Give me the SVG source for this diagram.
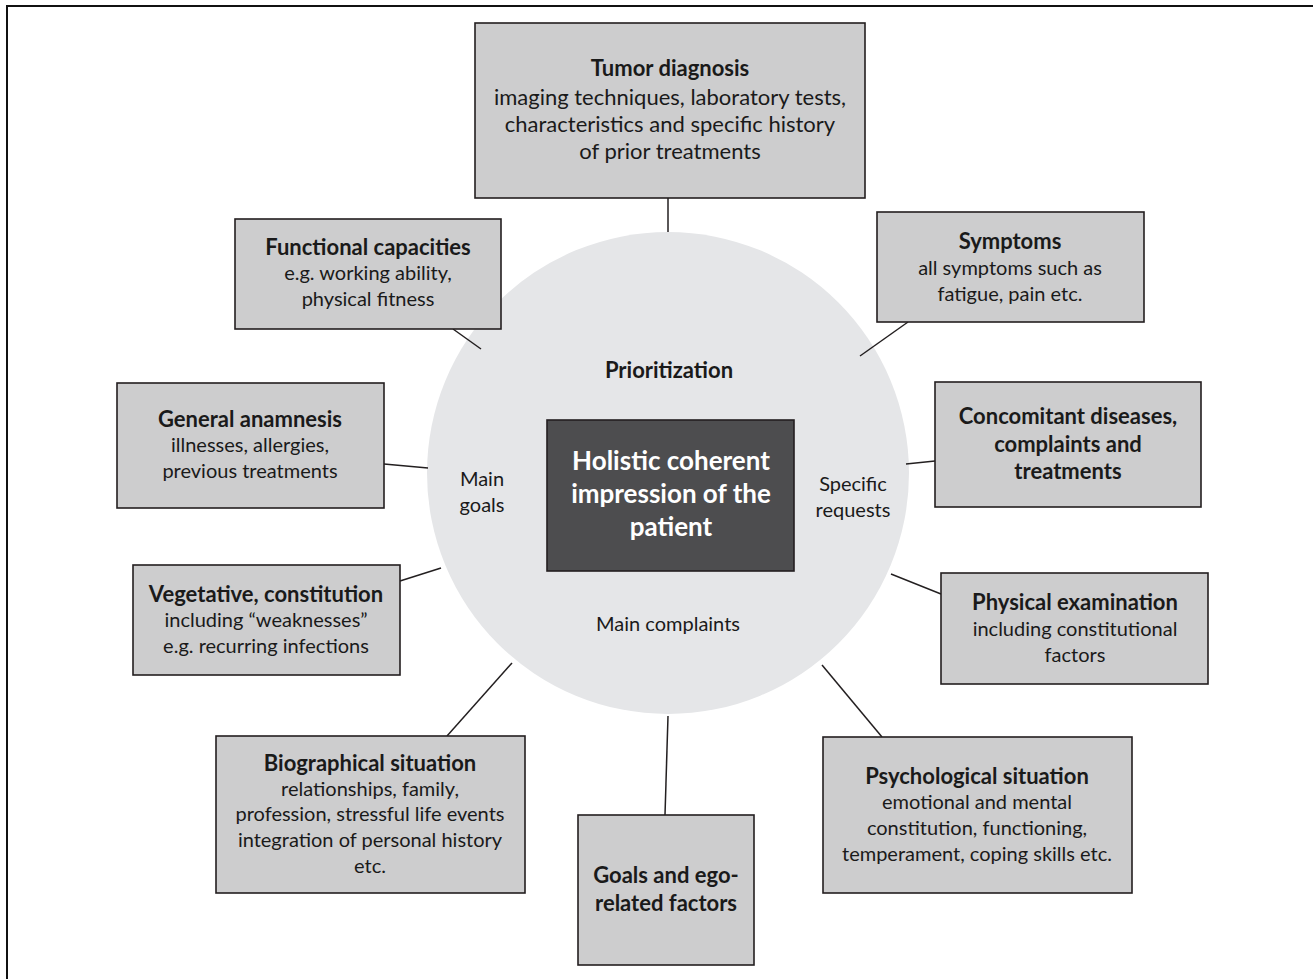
<svg xmlns="http://www.w3.org/2000/svg" width="1313" height="979" viewBox="0 0 1313 979">
<style>
.bx{fill:#cdcdce;stroke:#231f20;stroke-width:1.6}
.t{font-family:Lato,"Open Sans",sans-serif;font-size:20px;fill:#1a1a1a;text-anchor:middle}
.b{font-weight:bold;font-size:22px}
.L{font-size:22px}
.w{fill:#ffffff;font-size:26px;font-weight:bold}
.c{stroke:#231f20;stroke-width:1.5;fill:none}
</style>
<rect x="7" y="6" width="1330" height="1000" fill="#ffffff" stroke="#111" stroke-width="2"/>
<g id="hub">
<circle cx="668" cy="473" r="241" fill="#e5e6e8"/>
<text class="t b" x="669" y="378">Prioritization</text>
<text class="t" x="482" y="486">Main</text>
<text class="t" x="482" y="512">goals</text>
<text class="t" x="853" y="491">Specific</text>
<text class="t" x="853" y="517">requests</text>
<text class="t" x="668" y="631">Main complaints</text>
</g>
<g id="connectors">
<line class="c" x1="668" y1="198" x2="668" y2="232"/>
<line class="c" x1="453" y1="329" x2="481" y2="349"/>
<line class="c" x1="908" y1="322" x2="860" y2="356"/>
<line class="c" x1="384" y1="464" x2="428" y2="468"/>
<line class="c" x1="935" y1="461" x2="906" y2="464"/>
<line class="c" x1="400" y1="581" x2="441" y2="568"/>
<line class="c" x1="941" y1="594" x2="891" y2="574"/>
<line class="c" x1="447" y1="736" x2="512" y2="663"/>
<line class="c" x1="882" y1="737" x2="822" y2="665"/>
<line class="c" x1="665" y1="815" x2="668" y2="716"/>
</g>
<g id="center">
<rect x="547" y="420" width="247" height="151" fill="#4d4d4f" stroke="#231f20" stroke-width="1.6"/>
<text class="t w" x="671" y="470">Holistic coherent</text>
<text class="t w" x="671" y="503">impression of the</text>
<text class="t w" x="671" y="536">patient</text>
</g>
<g id="tumor">
<rect class="bx" x="475" y="23" width="390" height="175"/>
<text class="t b" x="670" y="76">Tumor diagnosis</text>
<text class="t L" x="670" y="105">imaging techniques, laboratory tests,</text>
<text class="t L" x="670" y="132">characteristics and specific history</text>
<text class="t L" x="670" y="159">of prior treatments</text>
</g>
<g id="functional">
<rect class="bx" x="235" y="219" width="266" height="110"/>
<text class="t b" x="368" y="255">Functional capacities</text>
<text class="t" x="368" y="280">e.g. working ability,</text>
<text class="t" x="368" y="306">physical fitness</text>
</g>
<g id="symptoms">
<rect class="bx" x="877" y="212" width="267" height="110"/>
<text class="t b" x="1010" y="249">Symptoms</text>
<text class="t" x="1010" y="275">all symptoms such as</text>
<text class="t" x="1010" y="301">fatigue, pain etc.</text>
</g>
<g id="general">
<rect class="bx" x="117" y="383" width="267" height="125"/>
<text class="t b" x="250" y="427">General anamnesis</text>
<text class="t" x="250" y="452">illnesses, allergies,</text>
<text class="t" x="250" y="478">previous treatments</text>
</g>
<g id="concomitant">
<rect class="bx" x="935" y="382" width="266" height="125"/>
<text class="t b" x="1068" y="424">Concomitant diseases,</text>
<text class="t b" x="1068" y="452">complaints and</text>
<text class="t b" x="1068" y="479">treatments</text>
</g>
<g id="vegetative">
<rect class="bx" x="133" y="565" width="267" height="110"/>
<text class="t b" x="266" y="602">Vegetative, constitution</text>
<text class="t" x="266" y="627">including “weaknesses”</text>
<text class="t" x="266" y="653">e.g. recurring infections</text>
</g>
<g id="physical">
<rect class="bx" x="941" y="573" width="267" height="111"/>
<text class="t b" x="1075" y="610">Physical examination</text>
<text class="t" x="1075" y="636">including constitutional</text>
<text class="t" x="1075" y="662">factors</text>
</g>
<g id="biographical">
<rect class="bx" x="216" y="736" width="309" height="157"/>
<text class="t b" x="370" y="771">Biographical situation</text>
<text class="t" x="370" y="796">relationships, family,</text>
<text class="t" x="370" y="821">profession, stressful life events</text>
<text class="t" x="370" y="847">integration of personal history</text>
<text class="t" x="370" y="873">etc.</text>
</g>
<g id="psychological">
<rect class="bx" x="823" y="737" width="309" height="156"/>
<text class="t b" x="977" y="784">Psychological situation</text>
<text class="t" x="977" y="809">emotional and mental</text>
<text class="t" x="977" y="835">constitution, functioning,</text>
<text class="t" x="977" y="861">temperament, coping skills etc.</text>
</g>
<g id="goals">
<rect class="bx" x="578" y="815" width="176" height="150"/>
<text class="t b" x="666" y="883">Goals and ego-</text>
<text class="t b" x="666" y="911">related factors</text>
</g>
</svg>
